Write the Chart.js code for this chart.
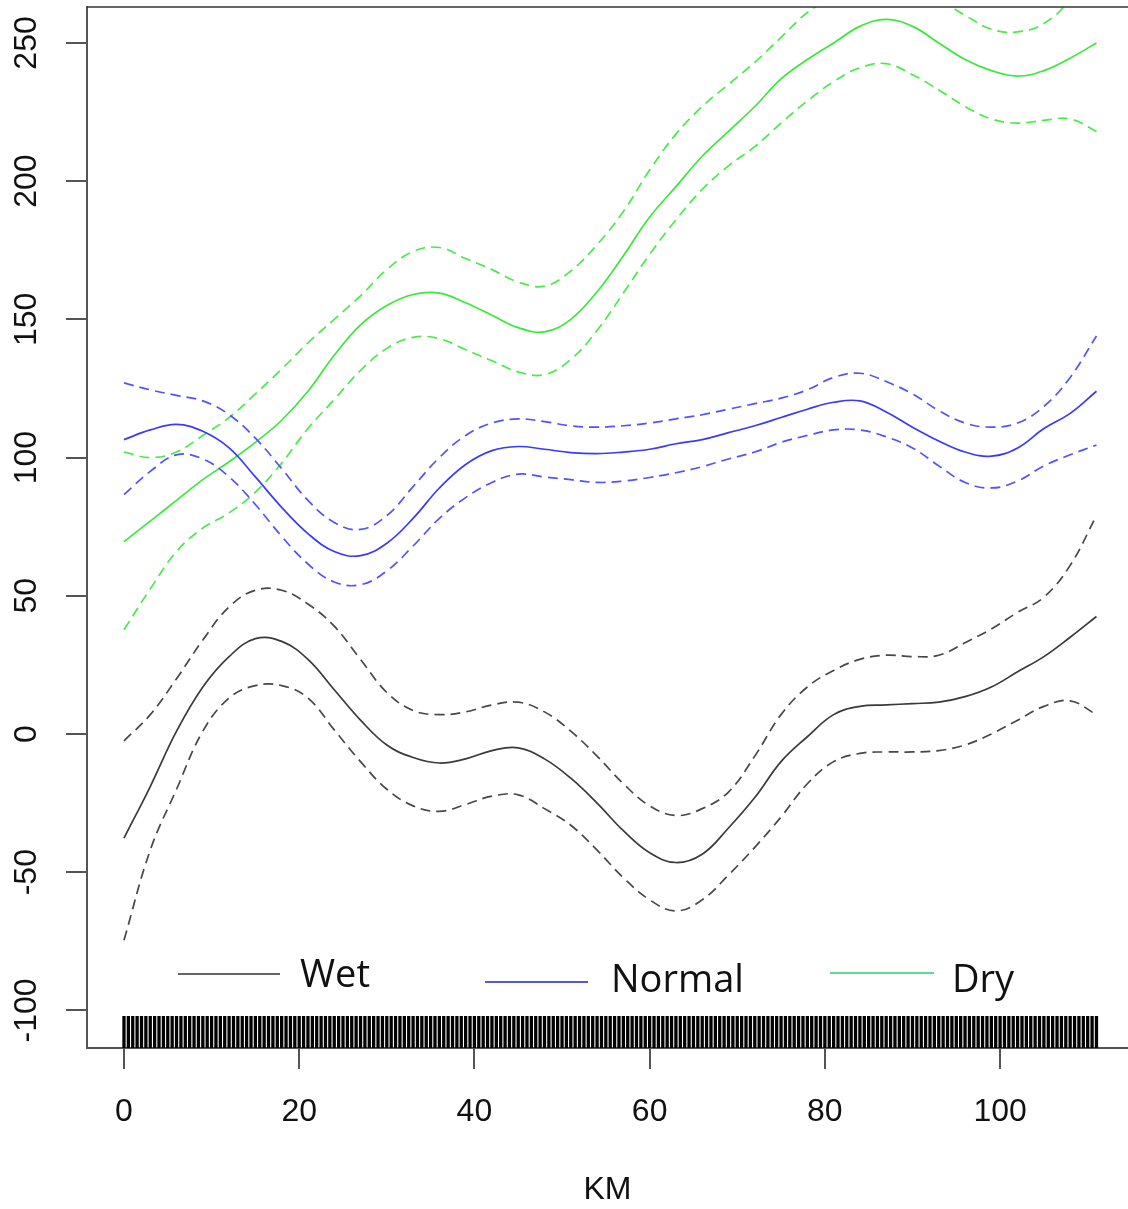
<!DOCTYPE html>
<html>
<head>
<meta charset="utf-8">
<title>KM</title>
<script src="https://cdn.jsdelivr.net/npm/chart.js@4/dist/chart.umd.min.js"></script>
<style>
  html, body { margin: 0; padding: 0; background: #fff; }
  canvas { display: block; }
</style>
</head>
<body>
<canvas id="kmChart" width="1128" height="1209"></canvas>
<script>
// kilometre positions of the fitted curves
const km = [0, 3, 6, 9, 12, 15, 18, 21, 24, 27, 30, 33, 36, 39, 42, 45, 48, 51, 54,
            57, 60, 63, 66, 69, 72, 75, 78, 81, 84, 87, 90, 93, 96, 99, 102, 105, 108, 111];

// Wet: fit and confidence band
const wetFit   = [-37.7, -19, 1, 17, 28, 34.5, 33.5, 27, 16, 5, -4, -8.5, -10.5, -9, -6, -5, -9, -16, -25,
                  -35, -43, -46.5, -43.5, -34, -23, -10, -1, 7, 10, 10.5, 11, 11.5, 13.5, 17, 22.5, 28, 35, 42.5];
const wetUpper = [-2.5, 7, 20, 34, 46, 52, 52, 47, 39, 27, 15, 8.5, 7, 8, 10.5, 11.5, 8, 1, -8,
                  -18, -26, -29.5, -27, -21, -8, 7, 17, 23, 27, 28.5, 28, 28.5, 33, 38, 44, 49.5, 61, 79];
const wetLower = [-74.6, -42, -20, 1, 13, 17.5, 17.5, 13, 1.5, -10, -20, -26, -28, -25.5, -22.5, -22, -27, -33, -42,
                  -52, -60, -64, -60, -51, -41, -30, -18, -10, -7, -6.5, -6.5, -6, -4, 0, 5, 10, 12, 7];

// Normal
const normalFit   = [106.5, 110, 112, 109.5, 103.5, 93, 82, 72.5, 66, 64.5, 69, 78, 89, 97.5, 102.5, 104, 103, 101.8, 101.4,
                     102, 103, 105, 106.5, 109, 111.5, 114.5, 117.5, 120, 120.5, 116.5, 111, 106, 102, 100.5, 103.5, 110.5, 116, 124];
const normalUpper = [127, 124.5, 122.5, 120.5, 115.5, 107, 96, 84.5, 76.5, 74, 79, 89.5, 100, 108, 112.5, 114, 113, 111.5, 111,
                     111.5, 112.5, 114, 115.5, 117.5, 119.5, 121.5, 124.5, 129, 130.5, 127.5, 123, 117, 112.5, 111, 112.5, 118.5, 129, 144];
const normalLower = [86.6, 95, 101, 99.5, 93, 83, 71.5, 61.5, 55, 54, 59, 68, 78, 85.5, 91, 94, 93, 92, 91,
                     91.5, 92.8, 94.5, 96.7, 99.5, 102, 105.5, 108, 110, 110, 107.5, 103.5, 97, 91, 89, 91.5, 97, 101, 104.5];

// Dry
const dryFit   = [69.6, 77, 84.5, 92, 98.5, 105.5, 113.5, 124, 137, 148, 155, 159, 159.5, 156, 151.5, 147, 145.5, 150, 160,
                  173, 187, 198, 209, 218, 227, 237, 244, 250, 256, 258.5, 256, 250, 244, 240, 238, 240, 244.5, 250];
const dryUpper = [102, 100, 102, 108, 114.5, 123, 132, 141.5, 150, 158.5, 168, 174.5, 176, 172, 168, 163.5, 162, 167.5, 177,
                  189, 204, 217, 227, 235, 243, 252, 261, 267, 273, 275, 272, 266, 260, 255, 254, 257, 266, 283];
const dryLower = [37.7, 52.5, 66, 74.5, 80, 87.5, 98, 110.5, 121, 131.5, 139.5, 143.5, 143, 139, 135, 131, 130, 135.5, 146,
                  159.5, 173.5, 186, 197, 205.5, 212.5, 221, 229, 236, 241, 242.5, 238.5, 233, 227, 222.5, 221, 222, 222.5, 218];

// observation positions shown as a rug along the bottom
const rugKm = [
  0, 0.5, 1, 1.5, 2, 2.5, 3, 3.5, 4, 4.5, 5, 5.5, 6, 6.5, 7, 7.5, 8, 8.5, 9, 9.5,
  10, 10.5, 11, 11.5, 12, 12.5, 13, 13.5, 14, 14.5, 15, 15.5, 16, 16.5, 17, 17.5, 18, 18.5, 19, 19.5,
  20, 20.5, 21, 21.5, 22, 22.5, 23, 23.5, 24, 24.5, 25, 25.5, 26, 26.5, 27, 27.5, 28, 28.5, 29, 29.5,
  30, 30.5, 31, 31.5, 32, 32.5, 33, 33.5, 34, 34.5, 35, 35.5, 36, 36.5, 37, 37.5, 38, 38.5, 39, 39.5,
  40, 40.5, 41, 41.5, 42, 42.5, 43, 43.5, 44, 44.5, 45, 45.5, 46, 46.5, 47, 47.5, 48, 48.5, 49, 49.5,
  50, 50.5, 51, 51.5, 52, 52.5, 53, 53.5, 54, 54.5, 55, 55.5, 56, 56.5, 57, 57.5, 58, 58.5, 59, 59.5,
  60, 60.5, 61, 61.5, 62, 62.5, 63, 63.5, 64, 64.5, 65, 65.5, 66, 66.5, 67, 67.5, 68, 68.5, 69, 69.5,
  70, 70.5, 71, 71.5, 72, 72.5, 73, 73.5, 74, 74.5, 75, 75.5, 76, 76.5, 77, 77.5, 78, 78.5, 79, 79.5,
  80, 80.5, 81, 81.5, 82, 82.5, 83, 83.5, 84, 84.5, 85, 85.5, 86, 86.5, 87, 87.5, 88, 88.5, 89, 89.5,
  90, 90.5, 91, 91.5, 92, 92.5, 93, 93.5, 94, 94.5, 95, 95.5, 96, 96.5, 97, 97.5, 98, 98.5, 99, 99.5,
  100, 100.5, 101, 101.5, 102, 102.5, 103, 103.5, 104, 104.5, 105, 105.5, 106, 106.5, 107, 107.5, 108, 108.5, 109, 109.5,
  110, 110.5, 111
];

const yTicks = [-100, -50, 0, 50, 100, 150, 200, 250];
const legendLabels = ['Wet', 'Normal', 'Dry'];

const AXIS_FONT = '"Liberation Sans", Arial, sans-serif';

function pts(values) {
  return values.map((v, i) => ({ x: km[i], y: v }));
}

function curve(values, color, dashed) {
  return {
    data: pts(values),
    borderColor: color,
    borderWidth: 1.7,
    borderDash: dashed ? [10, 6] : [],
    pointRadius: 0,
    tension: 0.4,
    fill: false
  };
}

// rug marks, y tick labels (rotated), top frame line and the legend
const extras = {
  id: 'extras',
  afterDatasetsDraw(chart) {
    const ctx = chart.ctx;
    const area = chart.chartArea;
    const xs = chart.scales.x;
    const ys = chart.scales.y;

    ctx.save();
    ctx.strokeStyle = '#000';
    ctx.lineWidth = 3.3;
    rugKm.forEach(k => {
      const px = xs.getPixelForValue(k);
      ctx.beginPath();
      ctx.moveTo(px, area.bottom);
      ctx.lineTo(px, area.bottom - 32);
      ctx.stroke();
    });

    // top frame
    ctx.strokeStyle = '#333';
    ctx.lineWidth = 1.5;
    ctx.beginPath();
    ctx.moveTo(area.left, area.top);
    ctx.lineTo(chart.width, area.top);
    ctx.stroke();

    // legend
    const items = [
      { label: legendLabels[0], color: '#333333', x1: 178, x2: 280, y: 974, tx: 300, ty: 976 },
      { label: legendLabels[1], color: '#1f1fcc', x1: 485, x2: 588, y: 982, tx: 611, ty: 981 },
      { label: legendLabels[2], color: '#2ecc71', x1: 830, x2: 934, y: 973, tx: 952, ty: 981 }
    ];
    ctx.font = '38px "Open Sans", sans-serif';
    ctx.textBaseline = 'middle';
    ctx.textAlign = 'left';
    items.forEach(it => {
      ctx.strokeStyle = it.color;
      ctx.lineWidth = 1.7;
      ctx.beginPath();
      ctx.moveTo(it.x1, it.y);
      ctx.lineTo(it.x2, it.y);
      ctx.stroke();
      ctx.fillStyle = '#111';
      ctx.fillText(it.label, it.tx, it.ty);
    });

    // y tick labels, reading upwards
    ctx.font = '32px ' + AXIS_FONT;
    ctx.fillStyle = '#111';
    ctx.textAlign = 'center';
    ctx.textBaseline = 'middle';
    yTicks.forEach(v => {
      ctx.save();
      ctx.translate(27, ys.getPixelForValue(v));
      ctx.rotate(-Math.PI / 2);
      ctx.fillText(String(v), 0, 0);
      ctx.restore();
    });
    ctx.restore();
  }
};

new Chart(document.getElementById('kmChart'), {
  type: 'line',
  data: {
    datasets: [
      curve(wetFit, '#3a3a3a', false),
      curve(wetUpper, '#474747', true),
      curve(wetLower, '#474747', true),
      curve(normalFit, '#3a3aff', false),
      curve(normalUpper, '#5252ff', true),
      curve(normalLower, '#5252ff', true),
      curve(dryFit, '#3ae83a', false),
      curve(dryUpper, '#4aea4a', true),
      curve(dryLower, '#4aea4a', true)
    ]
  },
  options: {
    responsive: false,
    animation: false,
    layout: { padding: { top: 7, right: 0, left: 0, bottom: 0 } },
    plugins: {
      legend: { display: false },
      tooltip: { enabled: false }
    },
    scales: {
      x: {
        type: 'linear',
        min: -4.22,
        max: 114.6,
        afterFit(scale) { scale.height = 161; },
        border: { display: true, color: '#555', width: 2 },
        grid: { drawOnChartArea: false, drawTicks: true, tickLength: 21, color: '#555', lineWidth: 2 },
        ticks: {
          stepSize: 20,
          includeBounds: false,
          maxRotation: 0,
          padding: 24,
          color: '#111',
          font: { family: AXIS_FONT, size: 32 }
        },
        title: {
          display: true,
          text: 'KM',
          color: '#111',
          padding: { top: 0, bottom: 0 },
          font: { family: AXIS_FONT, size: 32 }
        }
      },
      y: {
        type: 'linear',
        min: -113.6,
        max: 263,
        afterFit(scale) { scale.width = 87; },
        border: { display: true, color: '#555', width: 2 },
        grid: { drawOnChartArea: false, drawTicks: true, tickLength: 21, color: '#555', lineWidth: 2 },
        ticks: {
          stepSize: 50,
          includeBounds: false,
          display: false
        }
      }
    }
  },
  plugins: [extras]
});
</script>
</body>
</html>
